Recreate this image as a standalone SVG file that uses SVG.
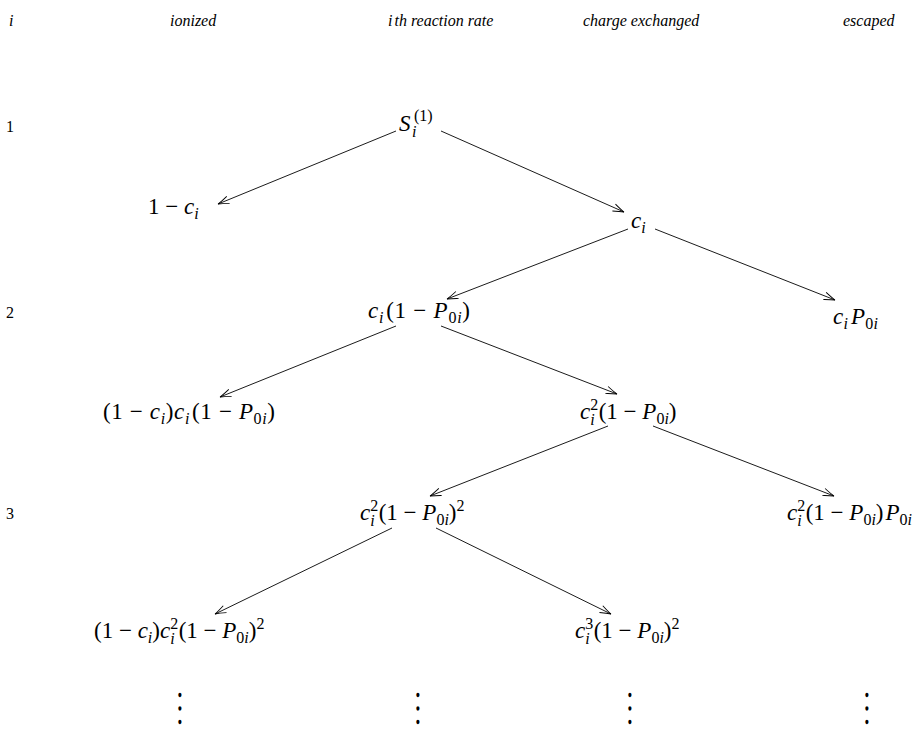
<svg xmlns="http://www.w3.org/2000/svg" width="924" height="748" viewBox="0 0 924 748" font-family="'Liberation Serif', Tinos, 'Times New Roman', Times, 'Nimbus Roman', 'Noto Serif', 'DejaVu Serif', FreeSerif, serif">
<defs>
<marker id="ah" markerUnits="userSpaceOnUse" markerWidth="14" markerHeight="10" viewBox="-12 -5 14 10" refX="0" refY="0" orient="auto">
<path d="M -11 -3.8 Q -4 -1 0 0 Q -4 1 -11 3.8" fill="none" stroke="#000" stroke-width="0.9"/>
</marker>
<style>
text{font-family:"Liberation Serif",Tinos,"Times New Roman",Times,"Nimbus Roman","Noto Serif","DejaVu Serif",FreeSerif,serif;fill:#000}
.h{font-size:16px;font-style:italic}
.lab{font-size:16px}
.m{font-size:23px}
.i{font-style:italic}
.s{font-size:16px}
.dots{font-size:28px;text-anchor:middle}
.c line{stroke:#000;stroke-width:0.9;fill:none;marker-end:url(#ah)}
</style>
</defs>
<rect width="924" height="748" fill="#fff"/>
<g id="headers">
<text class="h" x="9" y="26">i</text>
<text class="h" x="170" y="26">ionized</text>
<text class="h" x="388" y="26">i<tspan dx="2">th reaction rate</tspan></text>
<text class="h" x="583" y="26">charge exchanged</text>
<text class="h" x="843" y="26">escaped</text>
</g>
<g id="rowlabels">
<text class="lab" x="6" y="132">1</text>
<text class="lab" x="6" y="318">2</text>
<text class="lab" x="6" y="519">3</text>
</g>
<g class="c" id="connectors">
<line x1="396" y1="131" x2="218" y2="204"/>
<line x1="441" y1="131" x2="624" y2="212"/>
<line x1="628" y1="229" x2="447" y2="299"/>
<line x1="655" y1="229" x2="835" y2="300"/>
<line x1="396" y1="326" x2="220" y2="397"/>
<line x1="441" y1="326" x2="617" y2="394"/>
<line x1="608" y1="426" x2="430" y2="496"/>
<line x1="653" y1="426" x2="834" y2="496"/>
<line x1="392" y1="528" x2="215" y2="614"/>
<line x1="436" y1="528" x2="611" y2="614"/>
</g>
<g id="n_s1"><text class="m" x="399" y="131"><tspan class="i">S</tspan><tspan class="s" x="414" dy="-10">(1)</tspan><tspan class="s i" x="412" dy="16">i</tspan></text></g>
<g id="n_ionized1"><text class="m" x="148" y="214">1 − <tspan class="i">c</tspan><tspan class="s i" dy="5">i</tspan></text></g>
<g id="n_cx1"><text class="m" x="631" y="228"><tspan class="i">c</tspan><tspan class="s i" dy="5">i</tspan></text></g>
<g id="n_rate2"><text class="m" x="368" y="318" textLength="102"><tspan class="i">c</tspan><tspan class="s i" dy="5">i</tspan><tspan dy="-5" dx="2">(1 − </tspan><tspan class="i">P</tspan><tspan class="s" dy="5">0</tspan><tspan class="s i">i</tspan><tspan dy="-5">)</tspan></text></g>
<g id="n_esc2"><text class="m" x="833" y="324" textLength="45"><tspan class="i">c</tspan><tspan class="s i" dy="5">i</tspan><tspan class="i" dy="-5" dx="3">P</tspan><tspan class="s" dy="5">0</tspan><tspan class="s i">i</tspan></text></g>
<g id="n_ionized2"><text class="m" x="103" y="419" textLength="172">(1 − <tspan class="i">c</tspan><tspan class="s i" dy="5">i</tspan><tspan dy="-5">)</tspan><tspan class="i">c</tspan><tspan class="s i" dy="5">i</tspan><tspan dy="-5" dx="2">(1 − </tspan><tspan class="i">P</tspan><tspan class="s" dy="5">0</tspan><tspan class="s i">i</tspan><tspan dy="-5">)</tspan></text></g>
<g id="n_cx2"><text class="m" x="580" y="419"><tspan class="i">c</tspan><tspan class="s" dy="-9">2</tspan><tspan class="s i" dx="-8" dy="15">i</tspan><tspan dx="4" dy="-6">(1 − </tspan><tspan class="i">P</tspan><tspan class="s" dy="5">0</tspan><tspan class="s i">i</tspan><tspan dy="-5">)</tspan></text></g>
<g id="n_rate3"><text class="m" x="360" y="520"><tspan class="i">c</tspan><tspan class="s" dy="-9">2</tspan><tspan class="s i" dx="-8" dy="15">i</tspan><tspan dx="4" dy="-6">(1 − </tspan><tspan class="i">P</tspan><tspan class="s" dy="5">0</tspan><tspan class="s i">i</tspan><tspan dy="-5">)</tspan><tspan class="s" dy="-9">2</tspan></text></g>
<g id="n_esc3"><text class="m" x="787" y="520"><tspan class="i">c</tspan><tspan class="s" dy="-9">2</tspan><tspan class="s i" dx="-8" dy="15">i</tspan><tspan dx="4" dy="-6">(1 − </tspan><tspan class="i">P</tspan><tspan class="s" dy="5">0</tspan><tspan class="s i">i</tspan><tspan dy="-5">)</tspan><tspan class="i" dx="2">P</tspan><tspan class="s" dy="5">0</tspan><tspan class="s i">i</tspan></text></g>
<g id="n_ionized3"><text class="m" x="94" y="638"><tspan>(1 − </tspan><tspan class="i">c</tspan><tspan class="s i" dy="5">i</tspan><tspan dy="-5">)</tspan><tspan class="i">c</tspan><tspan class="s" dy="-9">2</tspan><tspan class="s i" dx="-8" dy="15">i</tspan><tspan dx="4" dy="-6">(1 − </tspan><tspan class="i">P</tspan><tspan class="s" dy="5">0</tspan><tspan class="s i">i</tspan><tspan dy="-5">)</tspan><tspan class="s" dy="-9">2</tspan></text></g>
<g id="n_cx3"><text class="m" x="575" y="638"><tspan class="i">c</tspan><tspan class="s" dy="-9">3</tspan><tspan class="s i" dx="-8" dy="15">i</tspan><tspan dx="4" dy="-6">(1 − </tspan><tspan class="i">P</tspan><tspan class="s" dy="5">0</tspan><tspan class="s i">i</tspan><tspan dy="-5">)</tspan><tspan class="s" dy="-9">2</tspan></text></g>
<g id="dots">
<text class="dots" transform="translate(180 724) scale(1 1.45)">⋮</text>
<text class="dots" transform="translate(418 724) scale(1 1.45)">⋮</text>
<text class="dots" transform="translate(630 724) scale(1 1.45)">⋮</text>
<text class="dots" transform="translate(867 724) scale(1 1.45)">⋮</text>
</g>
</svg>
